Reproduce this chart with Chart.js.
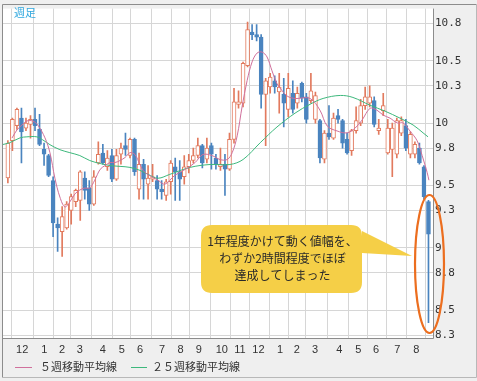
<!DOCTYPE html>
<html><head><meta charset="utf-8">
<script src="https://cdn.jsdelivr.net/npm/chart.js@4.4.0/dist/chart.umd.min.js"></script>
<style>html,body{margin:0;padding:0;background:#f0f0f0}#wrap{width:477px;height:381px}</style>
</head><body><div id="wrap"><canvas id="c" width="477" height="381"></canvas></div>
<script>
// ---- data (weekly candles, index 0..93) ----
const opens  = [9.56,9.86,9.98,10.04,9.96,9.99,10.03,9.95,9.79,9.74,9.54,9.19,9.13,9.16,9.30,9.37,9.38,9.56,9.48,9.35,9.68,9.76,9.65,9.74,9.55,9.75,9.82,9.74,9.87,9.47,9.67,9.51,9.55,9.54,9.47,9.42,9.53,9.65,9.61,9.57,9.65,9.70,9.74,9.82,9.71,9.82,9.72,9.65,9.67,9.63,9.87,10.15,10.16,10.46,10.73,10.71,10.69,10.23,10.29,10.34,10.25,10.23,10.11,10.24,10.16,10.32,10.21,10.18,10.03,10.02,9.71,9.92,9.88,10.06,10.02,9.87,9.78,9.94,10.00,10.14,10.16,10.18,9.94,10.10,9.76,9.79,9.75,9.92,9.98,9.75,9.75,9.80,9.65,9.37];
const highs  = [9.86,10.04,10.12,10.12,10.04,10.06,10.12,10.07,9.84,9.75,9.57,9.24,9.33,9.37,9.43,9.47,9.62,9.61,9.54,9.62,9.85,9.83,9.78,9.79,9.79,9.84,9.92,9.88,9.88,9.76,9.71,9.66,9.67,9.58,9.54,9.55,9.70,9.72,9.70,9.74,9.75,9.80,9.88,9.83,9.88,9.84,9.75,9.80,9.75,9.92,10.28,10.26,10.49,10.81,10.79,10.79,10.71,10.36,10.40,10.38,10.40,10.36,10.40,10.34,10.29,10.33,10.24,10.40,10.25,10.03,9.94,10.14,10.08,10.11,10.03,9.92,9.95,10.13,10.19,10.29,10.30,10.21,10.03,10.24,10.03,10.00,10.04,10.05,10.03,9.93,9.85,9.84,9.66,9.38];
const lows   = [9.52,9.78,9.95,9.68,9.94,9.88,9.94,9.82,9.66,9.57,9.09,8.97,8.93,9.15,9.19,9.33,9.22,9.39,9.30,9.34,9.67,9.67,9.62,9.53,9.54,9.67,9.74,9.72,9.58,9.39,9.39,9.39,9.53,9.39,9.39,9.38,9.43,9.38,9.38,9.51,9.60,9.68,9.72,9.64,9.68,9.63,9.63,9.62,9.42,9.62,9.84,10.12,10.13,10.45,10.67,10.66,10.12,9.82,10.24,10.24,10.08,9.97,10.05,10.08,10.12,10.17,10.00,10.16,10.00,9.68,9.68,9.87,9.87,10.00,9.80,9.75,9.74,9.92,9.98,10.11,10.13,9.97,9.91,10.06,9.75,9.57,9.72,9.90,9.78,9.72,9.72,9.67,9.39,8.40];
const closes = [9.84,10.03,10.11,9.93,10.00,10.03,9.98,9.83,9.75,9.58,9.20,9.16,9.25,9.35,9.41,9.46,9.61,9.46,9.35,9.57,9.75,9.68,9.72,9.55,9.74,9.80,9.79,9.87,9.61,9.67,9.55,9.56,9.57,9.47,9.45,9.53,9.68,9.61,9.55,9.65,9.70,9.74,9.82,9.68,9.80,9.75,9.67,9.67,9.63,9.87,10.17,10.17,10.48,10.75,10.71,10.69,10.23,10.34,10.37,10.29,10.29,10.16,10.28,10.11,10.24,10.20,10.03,10.26,10.22,9.72,9.92,9.89,10.04,10.03,9.84,9.76,9.94,10.02,10.14,10.21,10.21,9.99,9.96,10.14,9.96,9.96,10.02,10.02,9.80,9.91,9.83,9.68,9.41,9.11];

// moving averages (week position, value)
const ma5Weeks  = [0.9,2.0,3.1,4.2,5.5,6.6,8.2,9.3,10.4,11.5,12.6,13.7,14.8,15.9,17.0,18.1,19.2,20.4,21.5,22.6,23.7,24.8,25.9,27.0,28.1,29.2,30.3,33.2,34.7,36.9,39.2,41.4,43.1,45.1,46.9,48.5,49.6,50.7,51.8,52.9,54.0,55.1,56.2,57.3,58.4,59.5,60.6,61.9,63.5,66.8,69.0,70.6,72.8,75.0,76.8,78.3,80.1,81.6,83.0,84.5,86.1,87.4,88.9,90.5,91.6,92.7,93.1];
const ma5Values = [9.88,9.945,9.985,10.017,10.017,9.985,9.882,9.763,9.558,9.407,9.328,9.368,9.431,9.463,9.479,9.479,9.542,9.629,9.66,9.684,9.684,9.70,9.724,9.763,9.748,9.668,9.605,9.542,9.51,9.581,9.629,9.684,9.748,9.74,9.708,9.708,9.763,9.898,10.135,10.341,10.491,10.562,10.57,10.531,10.42,10.317,10.262,10.214,10.198,10.198,10.104,9.977,9.937,9.922,9.961,10.024,10.119,10.104,10.064,10.04,10.001,10.001,9.937,9.858,9.74,9.605,9.542];
const ma25Weeks  = [-1.3,0.4,2.7,4.2,6.4,7.7,9.3,11.5,13.7,15.9,18.1,20.4,22.6,24.8,27.0,29.2,31.0,33.2,35.8,40.3,44.7,49.1,52.0,55.8,59.5,63.5,66.8,69.7,73.5,76.3,80.1,83.4,86.7,89.6,91.8,92.9];
const ma25Values = [9.827,9.843,9.882,9.89,9.89,9.866,9.827,9.787,9.763,9.74,9.70,9.676,9.66,9.653,9.645,9.621,9.589,9.558,9.589,9.645,9.668,9.668,9.708,9.843,9.969,10.08,10.151,10.198,10.222,10.206,10.143,10.096,10.04,9.985,9.922,9.89];

// axis ticks
const monthTickWeeks  = [3.16,8.05,12.0,15.9,21.0,25.2,29.2,34.1,38.2,42.2,47.3,51.3,55.4,60.2,63.9,67.9,73.3,77.5,81.4,86.1,90.3];
const monthTickLabels = ['12','1','2','3','4','5','6','7','8','9','10','11','12','1','2','3','4','5','6','7','8'];
const yTickValues = [8.3,8.5,8.8,9.0,9.3,9.5,9.8,10.0,10.3,10.5,10.8];
const yTickLabels = ['8.3','8.5','8.8','9','9.3','9.5','9.8','10','10.3','10.5','10.8'];
const seriesNames = ['５週移動平均線','２５週移動平均線'];
const noteLines = ['1年程度かけて動く値幅を、','わずか2時間程度でほぼ','達成してしまった'];
const frameLabel = '週足';

// ---- styles ----
const UP = '#e27a5e', DOWN = '#4a84bf', MA5C = '#d0709c', MA25C = '#3db87c';
const isUp = opens.map((o,i)=>closes[i]>=o);

const bodies = opens.map((o,i)=>({x:i, y:[o, closes[i]]}));
const wicks  = opens.map((o,i)=>({x:i, y:[lows[i], highs[i]]}));
const ma5 = ma5Weeks.map((w,i)=>({x:w, y:ma5Values[i]}));
const ma25 = ma25Weeks.map((w,i)=>({x:w, y:ma25Values[i]}));

const deco = {
  id:'deco',
  beforeDraw(chart){
    const {ctx, chartArea:a} = chart;
    ctx.save();
    ctx.fillStyle = '#efefef';
    ctx.fillRect(0,0,chart.width,chart.height);
    ctx.fillStyle = '#ffffff';
    ctx.fillRect(a.left,a.top,a.right-a.left,a.bottom-a.top);
    ctx.restore();
  },
  afterDraw(chart){
    const {ctx, chartArea:a} = chart;
    ctx.save();
    // frames
    ctx.strokeStyle = '#8c8c8c'; ctx.lineWidth = 1;
    ctx.beginPath();
    ctx.moveTo(2.5, 377.5); ctx.lineTo(2.5, 4.5); ctx.lineTo(476.5, 4.5);
    ctx.moveTo(a.right+0.5, a.top); ctx.lineTo(a.right+0.5, a.bottom+0.5);
    ctx.moveTo(a.left, a.bottom+0.5); ctx.lineTo(a.right+0.5, a.bottom+0.5);
    ctx.stroke();
    ctx.strokeStyle = '#b8b8b8';
    ctx.beginPath();
    ctx.moveTo(2.5, 377.5); ctx.lineTo(476.5, 377.5); ctx.lineTo(476.5, 4.5);
    ctx.stroke();
    // label top-left
    ctx.fillStyle = '#2fa8df';
    ctx.font = '11px "Noto Sans CJK JP"';
    ctx.textAlign = 'left'; ctx.textBaseline = 'middle';
    ctx.fillText(frameLabel, 14, 13);
    // legend
    ctx.font = '11px "Noto Sans CJK JP"';
    ctx.fillStyle = '#333';
    ctx.lineWidth = 1;
    ctx.strokeStyle = MA5C;
    ctx.beginPath(); ctx.moveTo(15, 367.5); ctx.lineTo(32, 367.5); ctx.stroke();
    ctx.fillText(seriesNames[0], 40, 367);
    ctx.strokeStyle = MA25C;
    ctx.beginPath(); ctx.moveTo(131, 367.5); ctx.lineTo(147, 367.5); ctx.stroke();
    ctx.fillText(seriesNames[1], 152, 367);
    // callout bubble
    const bx=201, by=225, bw=161, bh=68, r=11;
    ctx.fillStyle = '#f5cf47';
    ctx.beginPath();
    ctx.moveTo(bx+r, by);
    ctx.lineTo(bx+bw-r, by);
    ctx.quadraticCurveTo(bx+bw, by, bx+bw, by+r);
    ctx.lineTo(bx+bw, by+6);
    ctx.lineTo(412, 256);
    ctx.lineTo(bx+bw, by+28);
    ctx.lineTo(bx+bw, by+bh-r);
    ctx.quadraticCurveTo(bx+bw, by+bh, bx+bw-r, by+bh);
    ctx.lineTo(bx+r, by+bh);
    ctx.quadraticCurveTo(bx, by+bh, bx, by+bh-r);
    ctx.lineTo(bx, by+r);
    ctx.quadraticCurveTo(bx, by, bx+r, by);
    ctx.closePath();
    ctx.fill();
    ctx.fillStyle = '#2a2a2a';
    ctx.font = '12px "Noto Sans CJK JP"';
    ctx.textAlign = 'center'; ctx.textBaseline = 'middle';
    ctx.fillText(noteLines[0], 282.5, 241);
    ctx.fillText(noteLines[1], 282.5, 258);
    ctx.fillText(noteLines[2], 282.5, 275);
    // ellipse
    ctx.strokeStyle = '#ec6e1f'; ctx.lineWidth = 2.2;
    ctx.beginPath();
    ctx.ellipse(429.5, 264, 14.5, 69, 0, 0, Math.PI*2);
    ctx.stroke();
    ctx.restore();
  }
};

new Chart(document.getElementById('c'), {
  type:'bar',
  data:{
    datasets:[
      {type:'line', label:seriesNames[0], data:ma5, borderColor:MA5C, borderWidth:1, pointRadius:0, tension:0.35, order:0},
      {type:'line', label:seriesNames[1], data:ma25, borderColor:MA25C, borderWidth:1, pointRadius:0, tension:0.35, order:0},
      {type:'bar', label:'body', data:bodies, grouped:false, barThickness:4, borderSkipped:false, borderWidth:1,
        backgroundColor:isUp.map(u=>u?'#ffffff':DOWN), borderColor:isUp.map(u=>u?UP:DOWN), order:1},
      {type:'bar', label:'wick', data:wicks, grouped:false, barThickness:1, borderWidth:0,
        backgroundColor:isUp.map(u=>u?UP:DOWN), order:2}
    ]
  },
  options:{
    responsive:false, animation:false, devicePixelRatio:1,
    layout:{padding:{left:2, top:4, right:0, bottom:0}},
    plugins:{legend:{display:false}, tooltip:{enabled:false}},
    scales:{
      x:{type:'linear', min:-1.3, max:94.0, offset:false,
        grid:{color:'#d6d6d6', drawTicks:false},
        border:{display:false},
        afterBuildTicks:(ax)=>{ax.ticks = monthTickWeeks.map(v=>({value:v}));},
        afterFit:(ax)=>{ax.height = 43;},
        ticks:{autoSkip:false, maxRotation:0, padding:5, color:'#333',
          font:{family:'Liberation Sans', size:11},
          callback:(v,i)=>monthTickLabels[i]}
      },
      y:{type:'linear', position:'right', min:8.2763, max:10.9187,
        grid:{color:'#d6d6d6', drawTicks:false},
        border:{display:false},
        afterBuildTicks:(ax)=>{ax.ticks = yTickValues.map(v=>({value:v}));},
        afterFit:(ax)=>{ax.width = 44;},
        ticks:{padding:2, color:'#333', font:{family:'DejaVu Sans Mono', size:11},
          callback:(v,i)=>yTickLabels[i]}
      }
    }
  },
  plugins:[deco]
});
</script></body></html>
